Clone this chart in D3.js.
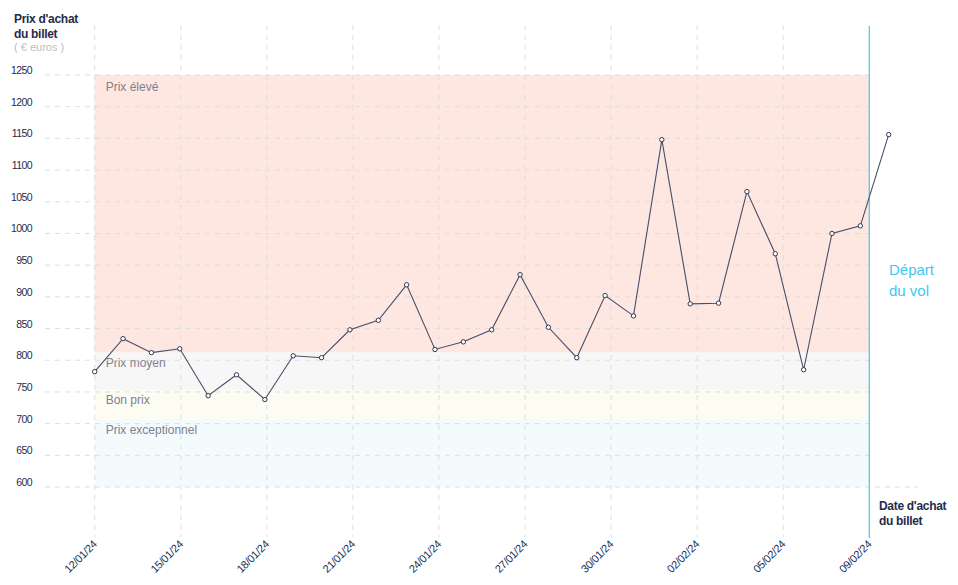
<!DOCTYPE html>
<html>
<head>
<meta charset="utf-8">
<script src="https://cdn.jsdelivr.net/npm/d3@7"></script>
<style>
    body { margin: 0; background: #fff; }
    svg { font-family: "Liberation Sans", Arial, sans-serif; }
</style>
</head>
<body>
<svg id="chart" width="958" height="585"></svg>
<script>
// days on which the ticket price was checked
const dates = ['12/01/24', '13/01/24', '14/01/24', '15/01/24', '16/01/24', '17/01/24', '18/01/24',
    '19/01/24', '20/01/24', '21/01/24', '22/01/24', '23/01/24', '24/01/24', '25/01/24', '26/01/24',
    '27/01/24', '28/01/24', '29/01/24', '30/01/24', '31/01/24', '01/02/24', '02/02/24', '03/02/24',
    '04/02/24', '05/02/24', '06/02/24', '07/02/24', '08/02/24', '09/02/24'];
const prices = [782, 834, 812, 818, 744, 777, 738, 807, 804, 848, 863, 919, 817, 829, 848,
    935, 852, 804, 902, 870, 1148, 889, 890, 1066, 968, 785, 1000, 1012, 1156];

const tickLabels = ['12/01/24', '15/01/24', '18/01/24', '21/01/24', '24/01/24',
    '27/01/24', '30/01/24', '02/02/24', '05/02/24', '09/02/24'];
const yTicks = [600, 650, 700, 750, 800, 850, 900, 950, 1000, 1050, 1100, 1150, 1200, 1250];

// price zones
const bandNames = ['Prix élevé', 'Prix moyen', 'Bon prix', 'Prix exceptionnel'];
const bandTop = [1250, 812, 753, 706];
const bandBottom = [812, 753, 706, 600];

const bandColors = ['#fee7e1', '#f7f7f7', '#fcfcf3', '#f3fbfd'];
const navy = '#1f2b4a';

var svg = d3.select("#chart");

var y = d3.scaleLinear().domain([600, 1250]).range([487, 75]);
var x = d3.scalePoint().domain(dates).range([94.7, 888.7]);
var xTick = d3.scalePoint().domain(tickLabels).range([94.7, 869.3]);
var departX = xTick(tickLabels[tickLabels.length - 1]);

// bands
var band = svg.selectAll("g.band")
    .data(bandNames)
    .enter()
    .append("g")
    .attr("class", "band");

band.append("rect")
    .attr("x", xTick(tickLabels[0]))
    .attr("y", function(d, i) { return y(bandTop[i]); })
    .attr("width", departX - xTick(tickLabels[0]))
    .attr("height", function(d, i) { return y(bandBottom[i]) - y(bandTop[i]); })
    .attr("fill", function(d, i) { return bandColors[i]; });

band.append("text")
    .attr("x", xTick(tickLabels[0]) + 11)
    .attr("y", function(d, i) { return y(bandTop[i]) + (i == 0 ? 16 : 14); })
    .attr("fill", "#7d8190")
    .style("font-size", "12px")
    .text(function(d) { return d; });

// horizontal grid
svg.selectAll("line.hgrid")
    .data(yTicks)
    .enter()
    .append("line")
    .attr("class", "hgrid")
    .attr("x1", 45)
    .attr("x2", function(d) { return d == 600 ? 918 : departX; })
    .attr("y1", function(d) { return y(d); })
    .attr("y2", function(d) { return y(d); })
    .attr("stroke", "#dedede")
    .attr("stroke-dasharray", "5,5");

svg.selectAll("text.ylabel")
    .data(yTicks)
    .enter()
    .append("text")
    .attr("class", "ylabel")
    .attr("x", 32)
    .attr("y", function(d) { return y(d) - 1; })
    .attr("text-anchor", "end")
    .attr("fill", navy)
    .style("font-size", "10.5px")
    .style("letter-spacing", "-0.6px")
    .text(function(d) { return d; });

// vertical grid + date labels
svg.selectAll("line.vgrid")
    .data(tickLabels.slice(0, -1))
    .enter()
    .append("line")
    .attr("class", "vgrid")
    .attr("x1", function(d) { return xTick(d); })
    .attr("x2", function(d) { return xTick(d); })
    .attr("y1", 25)
    .attr("y2", 537)
    .attr("stroke", "#dedede")
    .attr("stroke-dasharray", "5,5");

svg.selectAll("text.xlabel")
    .data(tickLabels)
    .enter()
    .append("text")
    .attr("class", "xlabel")
    .attr("text-anchor", "end")
    .attr("fill", navy)
    .style("font-size", "11px")
    .style("letter-spacing", "-0.3px")
    .attr("transform", function(d) { return "translate(" + (xTick(d) + 3) + ",545) rotate(-45)"; })
    .text(function(d) { return d; });

// depart line
svg.append("line")
    .attr("x1", departX).attr("x2", departX)
    .attr("y1", 26).attr("y2", 538)
    .attr("stroke", "#3fc8ef")
    .attr("stroke-width", 1.2);

svg.append("text").attr("x", 889).attr("y", 275).attr("fill", "#3fc8ef")
    .style("font-size", "15px").text("Départ");
svg.append("text").attr("x", 889).attr("y", 296).attr("fill", "#3fc8ef")
    .style("font-size", "15px").text("du vol");

// price line
var line = d3.line()
    .x(function(d, i) { return x(dates[i]); })
    .y(function(d) { return y(d); });

svg.append("path")
    .datum(prices)
    .attr("d", line)
    .attr("fill", "none")
    .attr("stroke", "#464f69")
    .attr("stroke-width", 1.1);

svg.selectAll("circle.pt")
    .data(prices)
    .enter()
    .append("circle")
    .attr("class", "pt")
    .attr("cx", function(d, i) { return x(dates[i]); })
    .attr("cy", function(d) { return y(d); })
    .attr("r", 2.2)
    .attr("fill", "#fff")
    .attr("stroke", "#2e3852")
    .attr("stroke-width", 1);

// axis titles
svg.append("text").attr("x", 14).attr("y", 23).attr("fill", navy)
    .style("font-size", "12px").style("font-weight", "bold").style("letter-spacing", "-0.3px").text("Prix d'achat");
svg.append("text").attr("x", 14).attr("y", 38).attr("fill", navy)
    .style("font-size", "12px").style("font-weight", "bold").style("letter-spacing", "-0.3px").text("du billet");
svg.append("text").attr("x", 14).attr("y", 51).attr("fill", "#bdbdbd")
    .style("font-size", "11px").text("( € euros )");

svg.append("text").attr("x", 879).attr("y", 510).attr("fill", navy)
    .style("font-size", "12px").style("font-weight", "bold").style("letter-spacing", "-0.3px").text("Date d'achat");
svg.append("text").attr("x", 879).attr("y", 525).attr("fill", navy)
    .style("font-size", "12px").style("font-weight", "bold").style("letter-spacing", "-0.3px").text("du billet");
</script>
</body>
</html>
